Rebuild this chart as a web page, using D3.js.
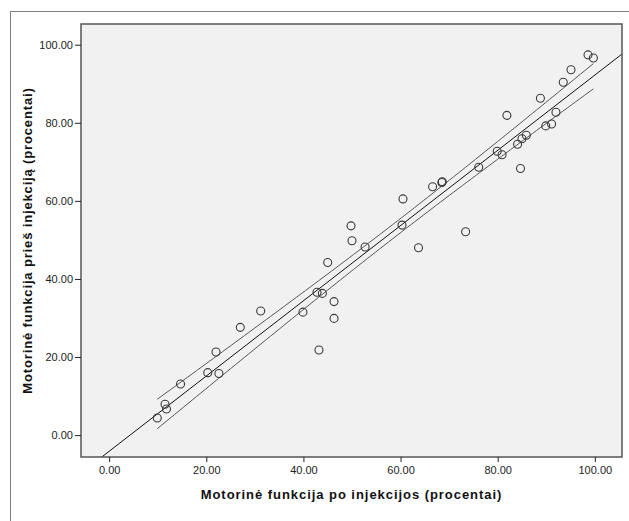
<!DOCTYPE html>
<html>
<head>
<meta charset="utf-8">
<script src="https://cdn.jsdelivr.net/npm/d3@7"></script>
<style>
  html, body { margin: 0; padding: 0; background: #fff; }
  svg { display: block; font-family: Arial, "Liberation Sans", sans-serif; }
</style>
</head>
<body>
<svg id="chart" width="629" height="521"></svg>
<script>
// Data
const afterInjection = [9.9, 11.5, 11.8, 14.7, 20.3, 22.0, 22.6, 27.0, 31.2, 39.9,
  42.8, 43.9, 43.2, 45.0, 46.3, 46.3, 49.8, 50.0, 52.7, 60.3,
  60.5, 63.7, 66.6, 68.5, 68.6, 73.4, 76.1, 79.9, 80.9, 81.9,
  84.1, 84.7, 85.0, 85.9, 88.8, 89.9, 91.1, 92.0, 93.5, 95.1,
  98.6, 99.7];
const beforeInjection = [4.4, 7.9, 6.7, 13.1, 16.0, 21.3, 15.8, 27.6, 31.8, 31.5,
  36.6, 36.3, 21.8, 44.2, 34.2, 29.9, 53.6, 49.8, 48.2, 53.8,
  60.5, 48.0, 63.6, 64.7, 64.9, 52.1, 68.6, 72.7, 71.8, 81.9,
  74.5, 68.3, 75.9, 76.8, 86.3, 79.2, 79.7, 82.7, 90.4, 93.6,
  97.4, 96.6];
const tickValues = [0, 20, 40, 60, 80, 100];
const xDomain = [-5.8, 105.6];
const yDomain = [-5.6, 105.3];
const xTitle = "Motorinė funkcija po injekcijos (procentai)";
const yTitle = "Motorinė funkcija prieš injekciją (procentai)";
const tCrit = 2.021; // 95%, df = n-2

const svg = d3.select("#chart");
const L = 81, R = 622, T = 24, B = 457;

// outer frame
svg.append("rect").attr("x", 10.5).attr("y", 11.5).attr("width", 640).attr("height", 540)
  .attr("fill", "none").attr("stroke", "#7f7f7f").attr("stroke-width", 1);

const x = d3.scaleLinear().domain(xDomain).range([L, R]);
const y = d3.scaleLinear().domain(yDomain).range([B, T]);

svg.append("rect").attr("x", L).attr("y", T).attr("width", R - L).attr("height", B - T)
  .attr("fill", "#f0f1f0");

const pts = afterInjection.map((v, i) => ({x: v, y: beforeInjection[i]}));

// regression + 95% mean CI
const n = pts.length;
const mx = d3.mean(pts, d => d.x), my = d3.mean(pts, d => d.y);
const sxx = d3.sum(pts, d => (d.x - mx) ** 2);
const sxy = d3.sum(pts, d => (d.x - mx) * (d.y - my));
const b1 = sxy / sxx, b0 = my - b1 * mx;
const sse = d3.sum(pts, d => (d.y - b0 - b1 * d.x) ** 2);
const s = Math.sqrt(sse / (n - 2));
const xMin = d3.min(afterInjection), xMax = d3.max(afterInjection);
const grid = d3.range(0, 101).map(k => xMin + (xMax - xMin) * k / 100);
const half = xv => tCrit * s * Math.sqrt(1 / n + (xv - mx) ** 2 / sxx);

svg.append("clipPath").attr("id", "clip").append("rect")
  .attr("x", L).attr("y", T).attr("width", R - L).attr("height", B - T);
const plot = svg.append("g").attr("clip-path", "url(#clip)");

const line = d3.line().x(d => x(d[0])).y(d => y(d[1]));
plot.append("path")
  .attr("d", line(grid.map(v => [v, b0 + b1 * v + half(v)])))
  .attr("fill", "none").attr("stroke", "#555").attr("stroke-width", 1);
plot.append("path")
  .attr("d", line(grid.map(v => [v, b0 + b1 * v - half(v)])))
  .attr("fill", "none").attr("stroke", "#555").attr("stroke-width", 1);
plot.append("path")
  .attr("d", line([[xDomain[0], b0 + b1 * xDomain[0]], [xDomain[1], b0 + b1 * xDomain[1]]]))
  .attr("fill", "none").attr("stroke", "#111").attr("stroke-width", 1);

plot.selectAll("circle.pt").data(pts).join("circle")
  .attr("class", "pt")
  .attr("cx", d => x(d.x)).attr("cy", d => y(d.y)).attr("r", 4)
  .attr("fill", "none").attr("stroke", "#3a3a3a").attr("stroke-width", 1.1);

// plot border
svg.append("rect").attr("x", L).attr("y", T).attr("width", R - L).attr("height", B - T)
  .attr("fill", "none").attr("stroke", "#555").attr("stroke-width", 1.5);

const fmt = d3.format(".2f");
const xAxis = svg.append("g").attr("transform", `translate(0,${B})`)
  .call(d3.axisBottom(x).tickValues(tickValues).tickFormat(fmt).tickSize(5).tickPadding(4));
const yAxis = svg.append("g").attr("transform", `translate(${L},0)`)
  .call(d3.axisLeft(y).tickValues(tickValues).tickFormat(fmt).tickSize(6).tickPadding(2));
[xAxis, yAxis].forEach(g => {
  g.select(".domain").remove();
  g.selectAll(".tick line").attr("stroke", "#222").attr("stroke-width", 1);
  g.selectAll(".tick text").attr("fill", "#222").style("font-size", "11px")
    .style("font-family", "Arial, 'Liberation Sans', sans-serif");
});

svg.append("text").attr("x", (L + R) / 2).attr("y", 499)
  .attr("text-anchor", "middle").attr("font-weight", "bold").attr("font-size", 13)
  .attr("letter-spacing", "0.95px")
  .attr("fill", "#111").text(xTitle);
svg.append("text").attr("transform", `translate(32,${(T + B) / 2}) rotate(-90)`)
  .attr("text-anchor", "middle").attr("font-weight", "bold").attr("font-size", 13)
  .attr("letter-spacing", "0.85px")
  .attr("fill", "#111").text(yTitle);
</script>
</body>
</html>
